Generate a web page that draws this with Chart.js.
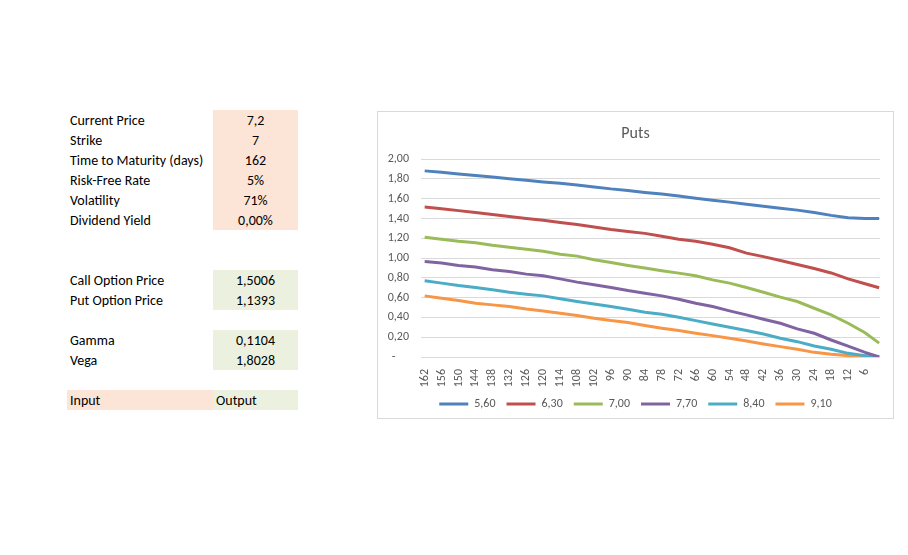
<!DOCTYPE html>
<html>
<head>
<meta charset="utf-8">
<script src="https://cdn.jsdelivr.net/npm/chart.js@4"></script>
<style>
  body { margin: 0; background: #fff; font-family: Carlito, Lato, sans-serif; }
  .cell { position: absolute; height: 20px; line-height: 22px; font-size: 14px; color: #000; }
  .lab { left: 70px; }
  .val { left: 213px; width: 85px; text-align: center; }
  .in { background: #FCE4D6; }
  .out { background: #EBF1DE; }
  #box { position: absolute; left: 377px; top: 111px; width: 515px; height: 306px; border: 1px solid #D9D9D9; }
  #wrap { position: absolute; left: 0; top: 0; width: 515px; height: 306px; }
</style>
</head>
<body>
<div class="cell in" style="left:213px;top:110px;width:85px;height:120px"></div>
<div class="cell out" style="left:213px;top:270px;width:85px;height:40px"></div>
<div class="cell out" style="left:213px;top:330px;width:85px;height:40px"></div>
<div class="cell in" style="left:67px;top:390px;width:146px"></div>
<div class="cell out" style="left:213px;top:390px;width:85px"></div>

<div class="cell lab" style="top:110px">Current Price</div><div class="cell val" style="top:110px">7,2</div>
<div class="cell lab" style="top:130px">Strike</div><div class="cell val" style="top:130px">7</div>
<div class="cell lab" style="top:150px">Time to Maturity (days)</div><div class="cell val" style="top:150px">162</div>
<div class="cell lab" style="top:170px">Risk-Free Rate</div><div class="cell val" style="top:170px">5%</div>
<div class="cell lab" style="top:190px">Volatility</div><div class="cell val" style="top:190px">71%</div>
<div class="cell lab" style="top:210px">Dividend Yield</div><div class="cell val" style="top:210px">0,00%</div>

<div class="cell lab" style="top:270px">Call Option Price</div><div class="cell val" style="top:270px">1,5006</div>
<div class="cell lab" style="top:290px">Put Option Price</div><div class="cell val" style="top:290px">1,1393</div>

<div class="cell lab" style="top:330px">Gamma</div><div class="cell val" style="top:330px">0,1104</div>
<div class="cell lab" style="top:350px">Vega</div><div class="cell val" style="top:350px">1,8028</div>

<div class="cell lab" style="top:390px">Input</div>
<div class="cell" style="left:216px;top:390px">Output</div>

<div id="box"><div id="wrap"><canvas id="puts"></canvas></div></div>

<script>
// days to maturity (x), last point is one day before expiry
const days = [162, 156, 150, 144, 138, 132, 126, 120, 114, 108, 102, 96, 90, 84, 78, 72, 66, 60, 54, 48, 42, 36, 30, 24, 18, 12, 6, 1];
const dayTicks = [162, 156, 150, 144, 138, 132, 126, 120, 114, 108, 102, 96, 90, 84, 78, 72, 66, 60, 54, 48, 42, 36, 30, 24, 18, 12, 6];

const seriesNames = ['5,60', '6,30', '7,00', '7,70', '8,40', '9,10'];
const seriesColors = ['#4F81BD', '#C0504D', '#9BBB59', '#8064A2', '#4BACC6', '#F79646'];

const put560 = [1.882, 1.868, 1.851, 1.834, 1.82, 1.803, 1.786, 1.77, 1.756, 1.74, 1.72, 1.70, 1.684, 1.664, 1.647, 1.627, 1.606, 1.586, 1.566, 1.545, 1.525, 1.505, 1.485, 1.462, 1.432, 1.408, 1.40, 1.40];
const put630 = [1.516, 1.50, 1.48, 1.46, 1.44, 1.42, 1.40, 1.383, 1.36, 1.34, 1.315, 1.29, 1.27, 1.25, 1.22, 1.19, 1.17, 1.14, 1.105, 1.05, 1.015, 0.975, 0.935, 0.895, 0.85, 0.79, 0.74, 0.70];
const put700 = [1.21, 1.19, 1.17, 1.155, 1.13, 1.11, 1.09, 1.07, 1.04, 1.02, 0.983, 0.956, 0.926, 0.899, 0.872, 0.848, 0.821, 0.78, 0.747, 0.703, 0.655, 0.605, 0.561, 0.493, 0.426, 0.341, 0.245, 0.14];
const put770 = [0.966, 0.95, 0.926, 0.909, 0.882, 0.865, 0.838, 0.821, 0.79, 0.757, 0.73, 0.703, 0.672, 0.645, 0.618, 0.584, 0.544, 0.51, 0.466, 0.426, 0.382, 0.341, 0.284, 0.24, 0.172, 0.11, 0.047, 0];
const put840 = [0.77, 0.747, 0.723, 0.703, 0.679, 0.655, 0.635, 0.618, 0.588, 0.561, 0.537, 0.51, 0.483, 0.453, 0.432, 0.402, 0.368, 0.334, 0.30, 0.267, 0.233, 0.189, 0.155, 0.111, 0.078, 0.037, 0.014, 0];
const put910 = [0.618, 0.595, 0.571, 0.544, 0.527, 0.51, 0.486, 0.466, 0.443, 0.419, 0.392, 0.368, 0.348, 0.318, 0.291, 0.267, 0.24, 0.216, 0.189, 0.162, 0.132, 0.105, 0.078, 0.047, 0.027, 0.014, 0.003, 0];

const allPuts = [put560, put630, put700, put770, put840, put910];

const textColor = '#595959';
const chartFont = 'Carlito, Lato, sans-serif';

function toPoints(values) {
  return values.map((v, i) => ({ x: days[i], y: v }));
}

const datasets = allPuts.map((vals, i) => ({
  label: seriesNames[i],
  data: toPoints(vals),
  borderColor: seriesColors[i],
  backgroundColor: seriesColors[i],
  borderWidth: 3,
  pointRadius: 0,
  tension: 0
}));

// Excel centres title and legend on the whole chart box, not on the padded area
const centerOnBox = {
  id: 'centerOnBox',
  afterLayout(chart) {
    [chart.titleBlock, chart.legend].forEach(b => {
      if (!b) return;
      b.left = 0;
      b.right = chart.width;
      b.width = chart.width;
    });
  }
};

new Chart(document.getElementById('puts'), {
  type: 'line',
  data: { datasets: datasets },
  plugins: [centerOnBox],
  options: {
    responsive: true,
    maintainAspectRatio: false,
    animation: false,
    layout: { padding: { left: 0, right: 13, top: 0, bottom: -2 } },
    scales: {
      x: {
        type: 'linear',
        reverse: true,
        min: 0.7,
        max: 163.3,
        afterBuildTicks: (axis) => { axis.ticks = dayTicks.map(v => ({ value: v })); },
        afterFit: (scale) => { scale.height = 30; },
        grid: { display: false },
        border: { display: false },
        ticks: {
          autoSkip: false,
          minRotation: 90,
          maxRotation: 90,
          padding: 4,
          color: textColor,
          font: { family: chartFont, size: 12 },
          callback: (value) => String(value)
        }
      },
      y: {
        min: 0,
        max: 2,
        afterFit: (scale) => { scale.width = 43; },
        grid: { color: '#D9D9D9', drawTicks: false },
        border: { display: false },
        ticks: {
          stepSize: 0.2,
          padding: 12,
          color: textColor,
          font: { family: chartFont, size: 12 },
          callback: (v) => Math.abs(v) < 1e-9 ? '-     ' : v.toFixed(2).replace('.', ',')
        }
      }
    },
    plugins: {
      title: {
        display: true,
        text: 'Puts',
        color: textColor,
        font: { family: chartFont, size: 16, weight: 'normal' },
        padding: { top: 12, bottom: 16 }
      },
      legend: {
        position: 'bottom',
        labels: {
          boxWidth: 29,
          boxHeight: 3,
          padding: 11,
          color: textColor,
          font: { family: chartFont, size: 12 },
          generateLabels: (chart) => Chart.defaults.plugins.legend.labels.generateLabels(chart).map(l => Object.assign(l, { lineWidth: 0 }))
        }
      },
      tooltip: { enabled: false }
    }
  }
});
</script>
</body>
</html>
